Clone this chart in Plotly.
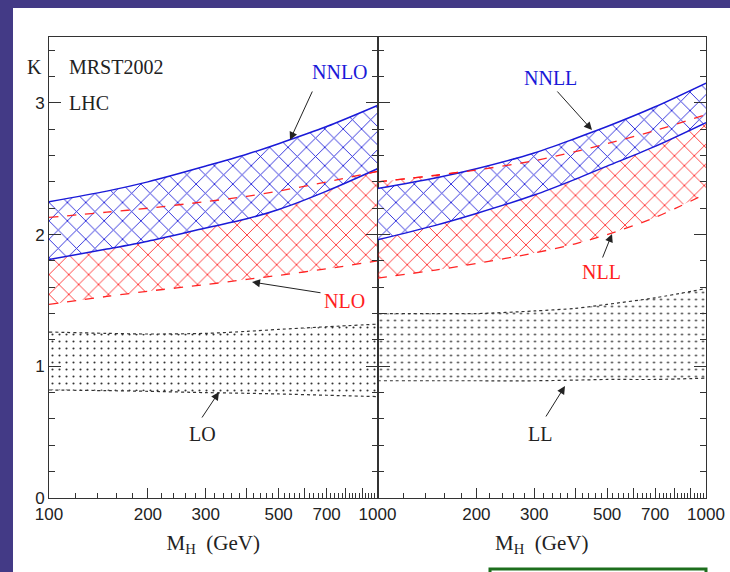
import plotly.graph_objects as go

# ---------------- data ----------------
M = [100, 150, 200, 300, 400, 500, 700, 1000]

nnlo_hi = [2.25, 2.33, 2.40, 2.52, 2.61, 2.69, 2.82, 2.98]
nnlo_lo = [1.81, 1.89, 1.95, 2.05, 2.12, 2.19, 2.33, 2.50]
nlo_hi = [2.13, 2.17, 2.20, 2.25, 2.29, 2.33, 2.40, 2.48]
nlo_lo = [1.47, 1.53, 1.57, 1.62, 1.66, 1.69, 1.74, 1.80]
lo_hi = [1.26, 1.25, 1.245, 1.25, 1.265, 1.28, 1.30, 1.32]
lo_lo = [0.82, 0.815, 0.81, 0.80, 0.795, 0.79, 0.78, 0.77]

nnll_hi = [2.35, 2.43, 2.50, 2.62, 2.73, 2.82, 2.97, 3.15]
nnll_lo = [1.96, 2.07, 2.16, 2.30, 2.42, 2.52, 2.67, 2.85]
nll_hi = [2.40, 2.45, 2.49, 2.56, 2.63, 2.69, 2.79, 2.91]
nll_lo = [1.67, 1.73, 1.78, 1.86, 1.93, 2.00, 2.13, 2.31]
ll_hi = [1.40, 1.40, 1.40, 1.42, 1.44, 1.47, 1.52, 1.59]
ll_lo = [0.89, 0.89, 0.89, 0.89, 0.895, 0.90, 0.90, 0.91]

x_major = [100, 200, 300, 400, 500, 600, 700, 800, 900, 1000]
x_labels_left = ["100", "200", "300", "", "500", "", "700", "", "", "1000"]
x_labels_right = ["", "200", "300", "", "500", "", "700", "", "", "1000"]
x_minor = [v for v in range(120, 1000, 20) if v % 100 != 0]
y_major = [0, 1, 2, 3]
y_labels = ["0", "1", "2", "3"]

SERIF = "Liberation Serif"
SANS = "Liberation Sans"
BLUE = "#1a1ad8"
RED = "rgba(255,25,25,0.95)"

# ---------------- figure ----------------
fig = go.Figure()


def band(xa, ya, hi, lo, color, shape, size, solid, dash, width, bg):
    xs = M + M[::-1]
    ys = hi + lo[::-1]
    fig.add_trace(go.Scatter(
        x=xs, y=ys, xaxis=xa, yaxis=ya, mode="none", fill="toself",
        fillcolor=bg,
        fillpattern=dict(shape=shape, fgcolor=color, bgcolor=bg,
                         size=size, solidity=solid, fillmode="replace"),
        showlegend=False, hoverinfo="skip"))
    for arr in (hi, lo):
        fig.add_trace(go.Scatter(
            x=M, y=arr, xaxis=xa, yaxis=ya, mode="lines",
            line=dict(color=color, width=width, dash=dash, shape="spline", smoothing=0.8),
            showlegend=False, hoverinfo="skip"))


def top_dash(xa, ya, arr):
    fig.add_trace(go.Scatter(x=M, y=arr, xaxis=xa, yaxis=ya, mode="lines",
                             line=dict(color=RED, width=1.3, dash="dash", shape="spline", smoothing=0.8),
                             showlegend=False, hoverinfo="skip"))


CLEAR = "rgba(255,255,255,0)"
# left panel
band("x", "y", lo_hi, lo_lo, "#333333", ".", 7, 0.07, "dot", 1.2, CLEAR)
band("x", "y", nlo_hi, nlo_lo, RED, "x", 14, 0.12, "dash", 1.3, CLEAR)
band("x", "y", nnlo_hi, nnlo_lo, BLUE, "x", 13, 0.13, "solid", 1.5, "white")
top_dash("x", "y", nlo_hi)
# right panel
band("x2", "y2", ll_hi, ll_lo, "#333333", ".", 7, 0.07, "dot", 1.2, CLEAR)
band("x2", "y2", nll_hi, nll_lo, RED, "x", 14, 0.12, "dash", 1.3, CLEAR)
band("x2", "y2", nnll_hi, nnll_lo, BLUE, "x", 13, 0.13, "solid", 1.5, "white")
top_dash("x2", "y2", nll_hi)

# ---------------- layout geometry ----------------
W, H = 730, 572
L, R, T, B = 49, 24, 37, 74
PW, PH = W - L - R, H - T - B


def px(x):
    return (x - L) / PW


def py(y):
    return (H - B - y) / PH


axis_common = dict(
    type="log", range=[2, 3], tickmode="array", tickvals=x_major,
    ticks="inside", ticklen=10, tickwidth=1.2, tickcolor="#333",
    showline=True, linecolor="#333", linewidth=1.3, mirror=True,
    showgrid=False, zeroline=False, automargin=False,
    tickfont=dict(family=SANS, size=17, color="#222"),
    minor=dict(tickvals=x_minor, ticks="inside", ticklen=5, tickcolor="#333", tickwidth=1, showgrid=False),
    title=dict(text="M<sub>H</sub>  (GeV)", font=dict(family=SERIF, size=21, color="#222"), standoff=12),
)
yaxis_common = dict(
    range=[0, 3.5], tickmode="array", tickvals=y_major, ticktext=y_labels,
    ticks="inside", ticklen=12, tickwidth=1.2, tickcolor="#333",
    showline=True, linecolor="#333", linewidth=1.0, mirror="ticks",
    showgrid=False, zeroline=False, automargin=False,
    tickfont=dict(family=SANS, size=17, color="#222"),
    minor=dict(dtick=0.2, tick0=0, ticks="inside", ticklen=6, tickcolor="#333", tickwidth=1, showgrid=False),
)

fig.update_layout(
    width=W, height=H,
    margin=dict(l=L, r=R, t=T, b=B),
    paper_bgcolor="#433a86",
    plot_bgcolor="white",
    showlegend=False,
    xaxis=dict(domain=[0, 0.5], anchor="y", ticktext=x_labels_left, **axis_common),
    xaxis2=dict(domain=[0.5, 1], anchor="y2", ticktext=x_labels_right, **axis_common),
    yaxis=dict(domain=[0, 1], anchor="x", **yaxis_common),
    yaxis2=dict(domain=[0, 1], anchor="x2", matches="y", showticklabels=False, **yaxis_common),
)

# white slide area and green box
fig.add_shape(type="rect", xref="paper", yref="paper", layer="below",
              x0=px(13), x1=px(740), y0=py(580), y1=py(8),
              fillcolor="white", line=dict(width=0))
fig.add_shape(type="rect", xref="paper", yref="paper", layer="above",
              x0=px(490), x1=px(706), y0=py(585), y1=py(569),
              fillcolor="white", line=dict(color="#1d6e1d", width=3))

# texts
texts = [
    ("K", 34, 67, "#222", "center"),
    ("MRST2002", 67, 67, "#222", "left"),
    ("LHC", 67, 103, "#222", "left"),
    ("NNLO", 340, 72, BLUE, "center"),
    ("NLO", 344, 301, "#ff1e1e", "center"),
    ("LO", 202, 434, "#222", "center"),
    ("NNLL", 550, 78, BLUE, "center"),
    ("NLL", 601, 272, "#ff1e1e", "center"),
    ("LL", 540, 434, "#222", "center"),
]
for t, x, y, c, anc in texts:
    fig.add_annotation(text=t, xref="paper", yref="paper", x=px(x), y=py(y),
                       xanchor=anc, yanchor="middle", showarrow=False,
                       font=dict(family=SERIF, size=20, color=c))

# arrows (tail -> tip)
arrows = [
    ((313, 90), (290, 140)),
    ((322, 293), (252, 282)),
    ((201, 419), (219, 392)),
    ((556, 90), (592, 130)),
    ((602, 259), (612, 234)),
    ((545, 418), (565, 386)),
]
for (tx, ty), (hx, hy) in arrows:
    fig.add_annotation(text="", xref="paper", yref="paper", x=px(hx), y=py(hy),
                       axref="pixel", ayref="pixel", ax=tx - hx, ay=ty - hy,
                       showarrow=True, arrowhead=2, arrowsize=1.6, arrowwidth=1,
                       arrowcolor="#222")

fig.write_html("out.html")
